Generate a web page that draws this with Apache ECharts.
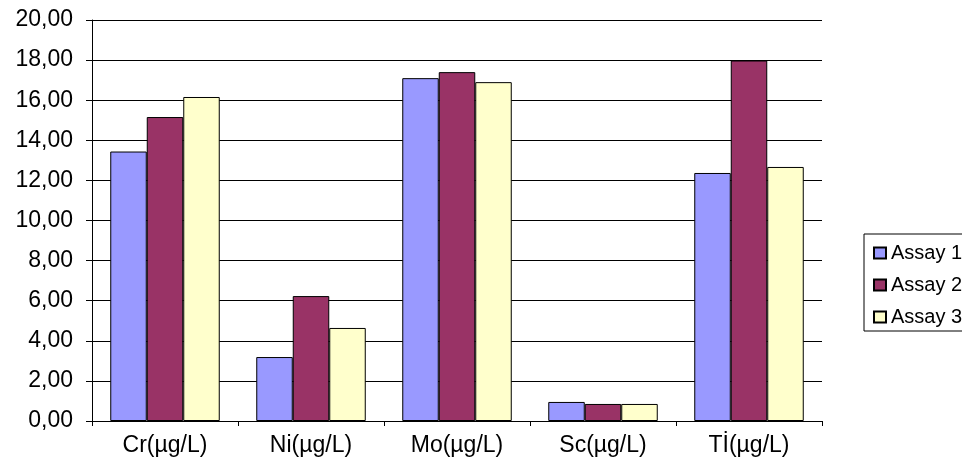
<!DOCTYPE html>
<html><head><meta charset="utf-8">
<script src="https://cdn.jsdelivr.net/npm/echarts@6/dist/echarts.min.js"></script>
<style>html,body{margin:0;padding:0;background:#fff}#c{width:962px;height:464px}</style>
</head><body><div id="c"></div>
<script>
const categories = ['Cr(µg/L)', 'Ni(µg/L)', 'Mo(µg/L)', 'Sc(µg/L)', 'Tİ(µg/L)'];
const assay1 = [13.44, 3.19, 17.10, 0.95, 12.37];
const assay2 = [15.16, 6.23, 17.40, 0.85, 17.98];
const assay3 = [16.16, 4.64, 16.90, 0.85, 12.67];
const seriesNames = ['Assay 1', 'Assay 2', 'Assay 3'];
const colors = ['#9999FF', '#993366', '#FFFFCC'];

const chart = echarts.init(document.getElementById('c'));
const font = "'Liberation Sans', Arial, sans-serif";
chart.setOption({
  animation: false,
  textStyle: { fontFamily: font },
  grid: { left: 92, right: 140, top: 20, bottom: 43, containLabel: false },
  legend: {
    orient: 'vertical', left: 864, top: 234,
    borderColor: '#000', borderWidth: 1, borderRadius: 0,
    padding: [9, 20, 4, 9], itemGap: 12,
    itemWidth: 12, itemHeight: 11, icon: 'rect',
    textStyle: { fontSize: 20, color: '#000', fontFamily: font },
    data: seriesNames
  },
  xAxis: {
    type: 'category', data: categories,
    axisLine: { lineStyle: { color: '#000', width: 1 } },
    axisTick: { show: true, length: 5, inside: false, lineStyle: { color: '#000' } },
    axisLabel: { fontSize: 23, color: '#000', margin: 13, fontFamily: font },
    splitLine: { show: false }
  },
  yAxis: {
    type: 'value', min: 0, max: 20, interval: 2,
    axisLine: { show: true, lineStyle: { color: '#000', width: 1 } },
    axisTick: { show: true, length: 6, lineStyle: { color: '#000' } },
    axisLabel: { fontSize: 23, color: '#000', margin: 19, fontFamily: font,
      formatter: v => v.toFixed(2).replace('.', ',') },
    splitLine: { show: true, lineStyle: { color: '#000', width: 1 } }
  },
  series: [assay1, assay2, assay3].map((d, i) => ({
    name: seriesNames[i], type: 'bar', data: d,
    barGap: '0%', barCategoryGap: '25%',
    itemStyle: { color: colors[i], borderColor: '#000', borderWidth: 1 }
  }))
});
</script></body></html>
